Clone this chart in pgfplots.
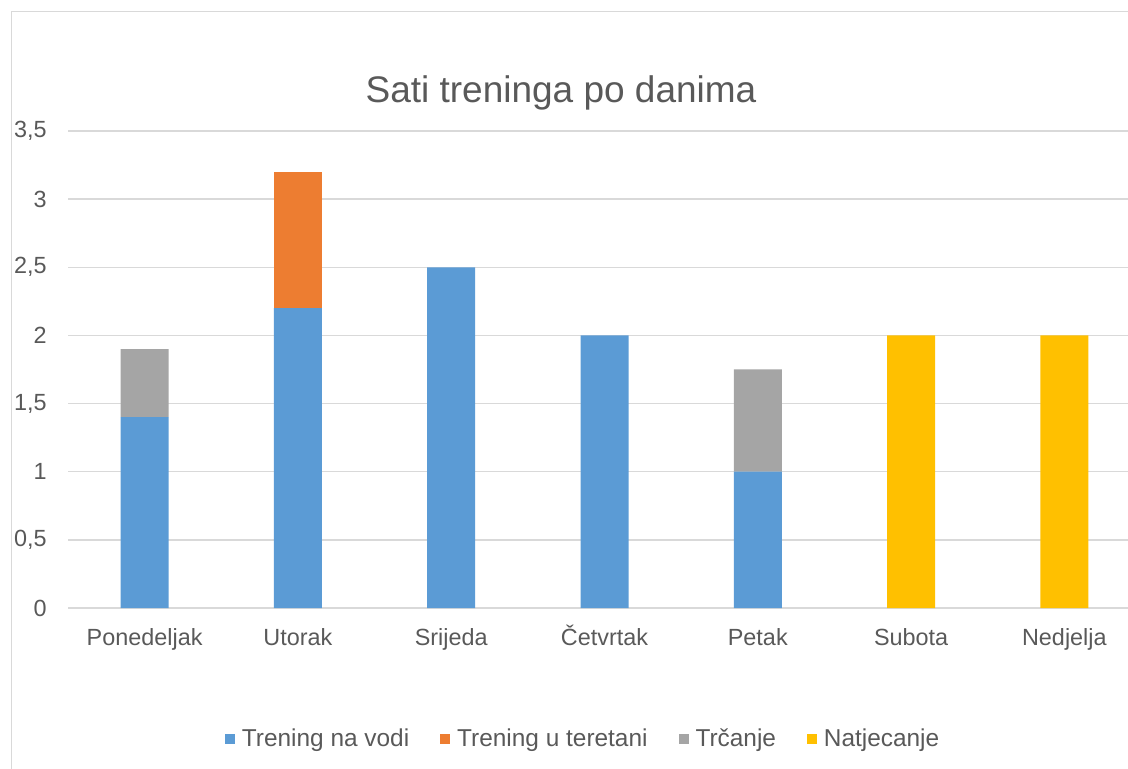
\documentclass[border=0pt]{standalone}
\usepackage{fontspec}
\setmainfont{Liberation Sans}
\usepackage{pgfplots}
\pgfplotsset{compat=1.18}
\definecolor{vodablue}{HTML}{5B9BD5}
\definecolor{teretanaorange}{HTML}{ED7D31}
\definecolor{trcanjegrey}{HTML}{A5A5A5}
\definecolor{natjecanjeyellow}{HTML}{FFC000}
\definecolor{txtgrey}{HTML}{595959}
\definecolor{gridgrey}{HTML}{D9D9D9}
\pgfplotsset{sqleg/.style={legend image code/.code={\fill[#1] (0bp,-2.5bp) rectangle (5bp,2.5bp);}}}
\begin{document}
\begin{tikzpicture}
\clip (0bp,0bp) rectangle (564bp,384.5bp);
\draw[gridgrey,line width=0.75bp] (5.75bp,-20bp) -- (5.75bp,378.75bp) -- (600bp,378.75bp);
\node[anchor=base,font=\fontsize{18.5bp}{22bp}\selectfont,text=txtgrey] at (280.5bp,333bp) {Sati treninga po danima};
\begin{axis}[at={(34bp,80.5bp)},anchor=south west,scale only axis,
  width=536.5bp,height=238.5bp,
  ybar stacked,bar width=24bp,
  xmin=-0.5,xmax=6.5,ymin=0,ymax=3.5,
  xtick={0,1,2,3,4,5,6},
  xticklabels={Ponedeljak,Utorak,Srijeda,Četvrtak,Petak,Subota,Nedjelja},
  ytick={0,0.5,1,1.5,2,2.5,3,3.5},
  /pgf/number format/use comma,
  /pgf/number format/assume math mode=true,
  axis line style={draw=none},major tick length=0pt,
  ymajorgrids,grid style={gridgrey,line width=0.75bp},
  tick label style={font=\fontsize{11.7bp}{14bp}\selectfont,text=txtgrey},
  y tick label style={inner sep=0pt,xshift=-10.5bp},
  x tick label style={inner sep=0pt,anchor=base,yshift=-18.5bp},
  legend style={at={(0.481,-0.275)},anchor=center,legend columns=4,draw=none,fill=none,
    font=\fontsize{12.2bp}{14bp}\selectfont,text=txtgrey,
    /tikz/every odd column/.append style={column sep=1.5bp},
    /tikz/every even column/.append style={column sep=13.5bp}},
  clip=false]
\addplot[fill=vodablue,draw=none,sqleg=vodablue] coordinates {(0,1.4) (1,2.2) (2,2.5) (3,2) (4,1) (5,0) (6,0)};
\addplot[fill=teretanaorange,draw=none,sqleg=teretanaorange] coordinates {(0,0) (1,1) (2,0) (3,0) (4,0) (5,0) (6,0)};
\addplot[fill=trcanjegrey,draw=none,sqleg=trcanjegrey] coordinates {(0,0.5) (1,0) (2,0) (3,0) (4,0.75) (5,0) (6,0)};
\addplot[fill=natjecanjeyellow,draw=none,sqleg=natjecanjeyellow] coordinates {(0,0) (1,0) (2,0) (3,0) (4,0) (5,2) (6,2)};
\legend{Trening na vodi,Trening u teretani,Trčanje,Natjecanje}
\end{axis}
\end{tikzpicture}
\end{document}
